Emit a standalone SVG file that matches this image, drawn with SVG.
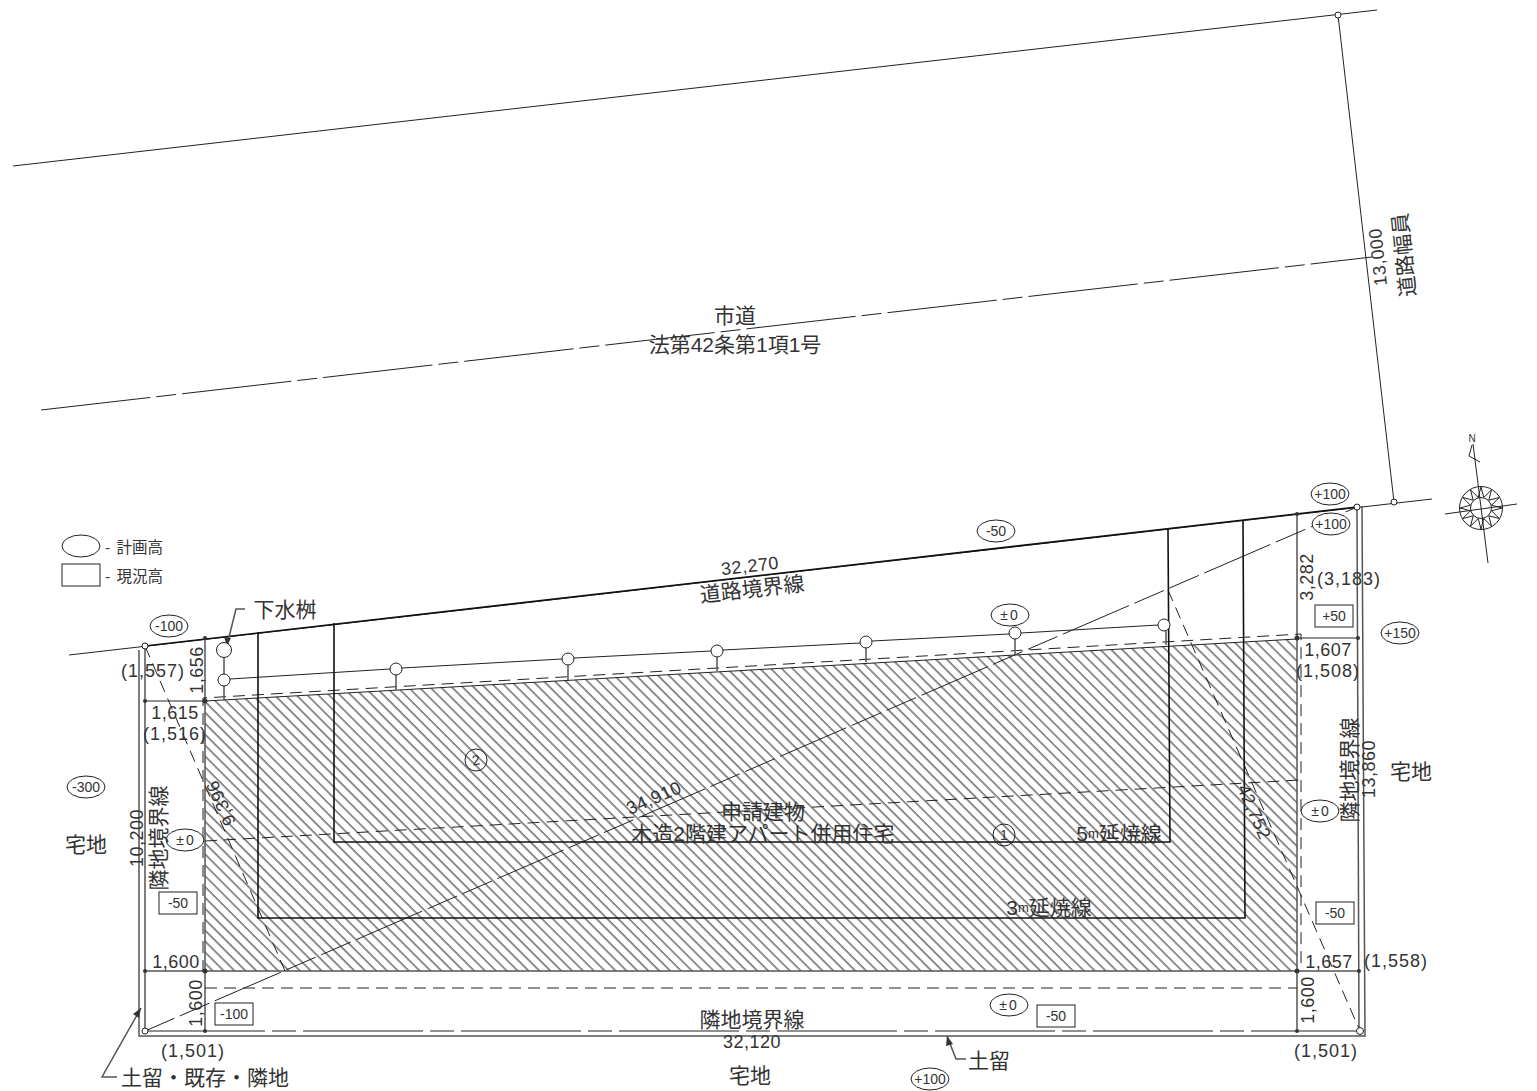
<svg xmlns="http://www.w3.org/2000/svg" width="1537" height="1091" viewBox="0 0 1537 1091">
<style>
text{font-family:"Liberation Sans","Noto Sans CJK JP",sans-serif;fill:#333;text-anchor:middle;dominant-baseline:central}
.t{font-size:21px}.n{font-size:18px;letter-spacing:.5px}.p{font-size:18px;letter-spacing:1px}.s{font-size:14px}.z{font-size:14px;letter-spacing:2px}.l{font-size:15.5px;text-anchor:start;word-spacing:2px}.m{font-size:13px}
line,polyline,path,rect,ellipse,circle{fill:none;stroke:#222;stroke-width:1}
.g{stroke:#555;stroke-width:1.5}.k{stroke:#111;stroke-width:1.6}
.d{stroke-dasharray:12 7}.a{stroke-dasharray:110 6 20 6}.ld{stroke-dasharray:32 6 32 6 72 6}
.w{fill:#fff}.dot{fill:#333;stroke:none}
</style>
<defs>
<pattern id="h" width="7.7" height="10" patternUnits="userSpaceOnUse" patternTransform="rotate(-45)"><line x1="3" y1="0" x2="3" y2="10" stroke="#333" stroke-width="1"/></pattern>
</defs>
<g id="hatch"><polygon points="205,701 1297,639 1297,971 205,971" fill="url(#h)" stroke="none"/></g>
<g id="connectors">
<line x1="13" y1="166" x2="1377" y2="10"/>
<line class="a" x1="41" y1="410" x2="1372" y2="257"/>
<line x1="69" y1="655" x2="1432" y2="499"/>
<line x1="1338" y1="15" x2="1394" y2="502"/>
<line class="k" x1="145" y1="646" x2="1357" y2="507"/>
<polyline class="g" points="139,650 139,1036 1365,1036 1362,506"/>
<line class="g" x1="145" y1="646" x2="145" y2="1031"/>
<line class="g" x1="1357" y1="507" x2="1359" y2="1031"/>
<line class="g" x1="205" y1="638" x2="205" y2="1031"/>
<line class="g" x1="1297" y1="514" x2="1297" y2="1031"/>
<line x1="145" y1="701" x2="205" y2="701"/>
<line class="g" x1="145" y1="971" x2="1359" y2="971"/>
<line x1="205" y1="701" x2="1297" y2="639"/>
<line x1="1297" y1="638" x2="1358" y2="638"/>
<line x1="145" y1="1031" x2="1359" y2="1031" stroke-dasharray="120 7 24 7"/>
<polyline class="d" points="203,972 203,698 1301,634 1301,965"/>
<line class="d" x1="205" y1="988" x2="1297" y2="988"/>
<line class="d" x1="205" y1="841" x2="1300" y2="780"/>
<line class="ld" x1="145" y1="1031" x2="1357" y2="507"/>
<line class="d" x1="145" y1="646" x2="285" y2="971"/>
<line class="d" x1="1168" y1="590" x2="1360" y2="1031"/>
<polyline class="k" points="334,623 334,842 1170,842 1168,529"/>
<polyline class="k" points="258,632 258,918 1245,918 1243,520"/>
<polyline points="230,679 390,669"/><polyline points="402,668 562,659"/><polyline points="574,658 711,651"/><polyline points="723,650 860,643"/><polyline points="872,641 1009,634"/><polyline points="1021,633 1158,625"/>
<line class="g" x1="224" y1="658" x2="224" y2="700"/>
<line class="g" x1="396" y1="675" x2="396" y2="690"/><line class="g" x1="568" y1="665" x2="568" y2="680"/><line class="g" x1="717" y1="657" x2="717" y2="671"/><line class="g" x1="866" y1="648" x2="866" y2="662"/><line class="g" x1="1015" y1="639" x2="1015" y2="654"/><line class="g" x1="1166" y1="631" x2="1166" y2="645"/>
<polyline class="g" points="245,609 236,609 227,645"/><polygon points="227,646 224,637 231,638" fill="#333"/>
<polyline class="g" points="117,1077 102,1077 141,1008"/><polygon points="141,1008 139,1018 133,1014" fill="#333"/>
<polyline class="g" points="966,1059 956,1059 947,1036"/><polygon points="947,1036 953,1044 946,1046" fill="#333"/>
</g>
<g id="points">
<circle class="w" cx="1338" cy="15" r="3"/><circle class="w" cx="1394" cy="502" r="3"/>
<circle class="w" cx="145" cy="646" r="3"/><circle class="w" cx="1357" cy="507" r="3"/><circle class="w" cx="145" cy="1031" r="3"/><circle class="w" cx="1360" cy="1031" r="3.5"/>
<circle class="dot" cx="205" cy="638" r="2"/><circle class="dot" cx="145" cy="701" r="2"/><circle class="dot" cx="205" cy="701" r="2.5"/><circle class="dot" cx="1297" cy="514" r="2"/><circle class="dot" cx="1297" cy="638" r="2.5"/><circle class="dot" cx="1358" cy="638" r="2"/><circle class="dot" cx="145" cy="971" r="2"/><circle class="dot" cx="205" cy="971" r="2.5"/><circle class="dot" cx="1297" cy="971" r="2.5"/><circle class="dot" cx="1359" cy="971" r="2"/><circle class="dot" cx="205" cy="1031" r="2"/><circle class="dot" cx="1297" cy="1031" r="2"/>
</g>
<g id="sewer">
<circle class="w" cx="224" cy="650" r="7.5"/><circle class="w" cx="224" cy="680" r="6"/><circle class="w" cx="396" cy="669" r="6"/><circle class="w" cx="568" cy="659" r="6"/><circle class="w" cx="717" cy="651" r="6"/><circle class="w" cx="866" cy="642" r="6"/><circle class="w" cx="1015" cy="633" r="6"/><circle class="w" cx="1164" cy="625" r="6"/>
</g>
<g id="legend">
<ellipse cx="81" cy="546" rx="19" ry="11"/><text class="l" x="105" y="547">- 計画高</text>
<rect x="62" y="564" width="38" height="22"/><text class="l" x="105" y="576">- 現況高</text>
</g>
<g id="levels">
<g id="l1"><ellipse class="w" cx="169" cy="626" rx="19" ry="11"/><text class="s" x="169" y="626">-100</text></g>
<g id="l2"><ellipse class="w" cx="86" cy="787" rx="19" ry="11"/><text class="s" x="86" y="787">-300</text></g>
<g id="l3"><ellipse class="w" cx="185" cy="840" rx="19" ry="11"/><text class="z" x="186" y="840">±0</text></g>
<g id="l4"><ellipse class="w" cx="996" cy="531" rx="19" ry="11"/><text class="s" x="996" y="531">-50</text></g>
<g id="l5"><ellipse class="w" cx="1010" cy="615" rx="19" ry="11"/><text class="z" x="1010" y="615">±0</text></g>
<g id="l6"><ellipse class="w" cx="1330" cy="494" rx="19" ry="11"/><text class="s" x="1330" y="494">+100</text></g>
<g id="l7"><ellipse class="w" cx="1331" cy="524" rx="19" ry="11"/><text class="s" x="1331" y="524">+100</text></g>
<g id="l8"><ellipse class="w" cx="1400" cy="633" rx="19" ry="11"/><text class="s" x="1400" y="633">+150</text></g>
<g id="l9"><ellipse class="w" cx="1320" cy="811" rx="19" ry="11"/><text class="z" x="1321" y="811">±0</text></g>
<g id="l10"><ellipse class="w" cx="1009" cy="1005" rx="19" ry="11"/><text class="z" x="1009" y="1005">±0</text></g>
<g id="l11"><ellipse class="w" cx="930" cy="1079" rx="19" ry="11"/><text class="s" x="930" y="1079">+100</text></g>
<g id="b1"><rect class="w" x="1315" y="605" width="38" height="22"/><text class="s" x="1334" y="616">+50</text></g>
<g id="b2"><rect class="w" x="159" y="892" width="38" height="22"/><text class="s" x="178" y="903">-50</text></g>
<g id="b3"><rect class="w" x="215" y="1003" width="38" height="22"/><text class="s" x="234" y="1014">-100</text></g>
<g id="b4"><rect class="w" x="1037" y="1005" width="38" height="22"/><text class="s" x="1056" y="1016">-50</text></g>
<g id="b5"><rect class="w" x="1316" y="902" width="38" height="22"/><text class="s" x="1335" y="913">-50</text></g>
<g id="c1"><circle cx="476" cy="760" r="11"/><text class="s" x="476" y="760" transform="rotate(-10 476 760)">2</text></g>
<g id="c2"><circle cx="1004" cy="835" r="11"/><text class="s" x="1004" y="835">1</text></g>
</g>
<g id="labels">
<text class="t" x="735" y="315">市道</text>
<text class="t" x="735" y="344">法第42条第1項1号</text>
<text class="n" transform="translate(1378 257) rotate(-96)">13,000</text>
<text class="t" transform="translate(1404 255) rotate(-96)">道路幅員</text>
<text class="n" transform="translate(750 566) rotate(-6.5)">32,270</text>
<text class="t" transform="translate(752 589) rotate(-6.5)">道路境界線</text>
<text class="t" x="285" y="609">下水桝</text>
<text class="p" x="153" y="671">(1,557)</text>
<text class="n" transform="translate(197 670) rotate(-90)">1,656</text>
<text class="n" x="175" y="713">1,615</text>
<text class="p" x="175" y="734">(1,516)</text>
<text class="p" x="1349" y="579">(3,183)</text>
<text class="n" transform="translate(1307 577) rotate(-90)">3,282</text>
<text class="n" x="1328" y="650">1,607</text>
<text class="p" x="1328" y="671">(1,508)</text>
<text class="t" transform="translate(1349 770) rotate(-90)">隣地境界線</text>
<text class="n" transform="translate(1369 769) rotate(-90)">13,860</text>
<text class="t" x="1411" y="771">宅地</text>
<text class="t" x="86" y="844">宅地</text>
<text class="n" transform="translate(137 838) rotate(-90)">10,200</text>
<text class="t" transform="translate(158 838) rotate(-90)">隣地境界線</text>
<text class="n" transform="translate(221 803) rotate(-114)">9,396</text>
<text class="n" transform="translate(1254 812) rotate(66.5)">42,752</text>
<text class="n" transform="translate(654 798) rotate(-23.4)">34,910</text>
<text class="t" x="763" y="811">申請建物</text>
<text class="t" x="763" y="833">木造2階建アパート併用住宅</text>
<text class="t" x="1119" y="833">5<tspan class="m">m</tspan>延焼線</text>
<text class="t" x="1049" y="907">3<tspan class="m">m</tspan>延焼線</text>
<text class="n" x="176" y="962">1,600</text>
<text class="n" x="1329" y="962">1,657</text>
<text class="p" x="1396" y="961">(1,558)</text>
<text class="n" transform="translate(196 1003) rotate(-90)">1,600</text>
<text class="n" transform="translate(1308 1000) rotate(-90)">1,600</text>
<text class="t" x="752" y="1019">隣地境界線</text>
<text class="n" x="752" y="1042">32,120</text>
<text class="p" x="193" y="1051">(1,501)</text>
<text class="p" x="1326" y="1051">(1,501)</text>
<text class="t" x="750" y="1075">宅地</text>
<text class="t" x="989" y="1060">土留</text>
<text class="t" x="205" y="1077">土留・既存・隣地</text>
</g>
<g id="compass">
<text x="1472" y="438" style="font-size:10px">N</text>
<line x1="1473" y1="444" x2="1488" y2="563"/>
<line x1="1445" y1="514" x2="1517" y2="504"/>
<path d="M1472 445L1469 456L1480 462"/>
<circle cx="1481" cy="508" r="21.5"/><circle cx="1481" cy="508" r="10.5"/>
<path d="M1502 508L1491.6 510.8L1499.2 518.5L1488.8 515.8L1491.5 526.2L1483.8 518.6L1481 529L1478.2 518.6L1470.5 526.2L1473.2 515.8L1462.8 518.5L1470.4 510.8L1460 508L1470.4 505.2L1462.8 497.5L1473.2 500.2L1470.5 489.8L1478.2 497.4L1481 487L1483.8 497.4L1491.5 489.8L1488.8 500.2L1499.2 497.5L1491.6 505.2Z"/>
</g>
</svg>
